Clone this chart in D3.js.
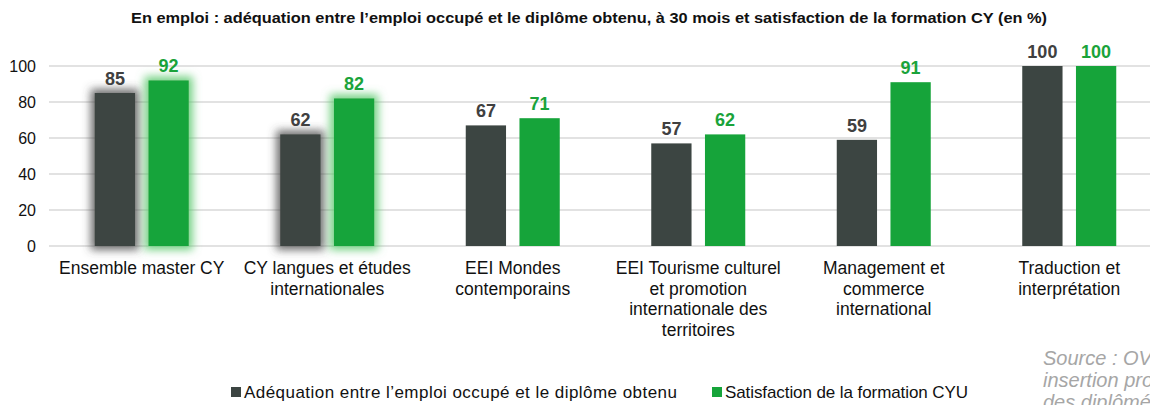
<!DOCTYPE html>
<html><head><meta charset="utf-8">
<script src="https://cdn.jsdelivr.net/npm/d3@7"></script>
<style>body{margin:0;background:#fff;overflow:hidden}svg{display:block;font-family:"Liberation Sans",Arial,sans-serif}</style>
</head><body><svg id="c" width="1150" height="405"></svg>
<script>
const categories = [
  ["Ensemble master CY"],
  ["CY langues et études", "internationales"],
  ["EEI Mondes", "contemporains"],
  ["EEI Tourisme culturel", "et promotion", "internationale des", "territoires"],
  ["Management et", "commerce", "international"],
  ["Traduction et", "interprétation"]
];
const seriesNames = ["Adéquation entre l’emploi occupé et le diplôme obtenu", "Satisfaction de la formation CYU"];
const adequation = [85, 62, 67, 57, 59, 100];
const satisfaction = [92, 82, 71, 62, 91, 100];
const yTicks = [0, 20, 40, 60, 80, 100];
const glowDark = [true, true, false, false, false, false];
const glowGreen = [true, true, false, false, false, false];

const colors = ["#3c4542", "#16a43a"];
const labelColors = ["#404040", "#1aa33a"];
const svg = d3.select("#c");

const defs = svg.append("defs");
function glow(id, col, op) {
  const f = defs.append("filter").attr("id",id).attr("x","-50%").attr("y","-50%").attr("width","200%").attr("height","200%");
  f.append("feMorphology").attr("in","SourceAlpha").attr("operator","dilate").attr("radius",3.5).attr("result","d");
  f.append("feGaussianBlur").attr("in","d").attr("stdDeviation",4).attr("result","b");
  f.append("feFlood").attr("flood-color",col).attr("flood-opacity",op);
  f.append("feComposite").attr("in2","b").attr("operator","in").attr("result","s");
  const m = f.append("feMerge"); m.append("feMergeNode").attr("in","s"); m.append("feMergeNode").attr("in","SourceGraphic");
}
glow("gd", "#4a4a4a", 0.8);
glow("gg", "#5cc96e", 0.85);

const x0 = d3.scaleBand().domain(d3.range(categories.length)).range([49, 1162]);
const x1 = d3.scaleBand().domain([0,1]).range([0, 94]).paddingInner(0.25);
const y = d3.scaleLinear().domain([0,100]).range([246, 66]);

svg.append("text").attr("x", 589).attr("y", 23).attr("text-anchor","middle")
  .attr("font-size", 14.5).attr("font-weight","bold").attr("fill","#111").attr("textLength", 916).attr("lengthAdjust","spacingAndGlyphs")
  .text("En emploi : adéquation entre l’emploi occupé et le diplôme obtenu, à 30 mois  et satisfaction de la formation CY (en %)");

// grid
const grid = svg.append("g");
grid.selectAll("line").data(yTicks).join("line")
  .attr("x1", 49).attr("x2", 1150).attr("y1", d=>y(d)).attr("y2", d=>y(d))
  .attr("stroke","#d9d9d9").attr("stroke-width",1.3);

const yAxis = svg.append("g").attr("transform","translate(36,0)")
  .call(d3.axisLeft(y).tickValues(yTicks).tickSize(0).tickPadding(0));
yAxis.select(".domain").remove();
yAxis.selectAll("text").attr("font-size",16).attr("fill","#111").attr("font-family","Liberation Sans, Arial, sans-serif");

const series = [adequation, satisfaction];
const glows = [glowDark, glowGreen];
const filt = ["url(#gd)","url(#gg)"];
categories.forEach((c, i) => {
  const g = svg.append("g").attr("transform", `translate(${x0(i) + (x0.bandwidth()-94)/2},0)`);
  series.forEach((s, k) => {
    const r = g.append("rect").attr("x", x1(k)).attr("width", x1.bandwidth())
      .attr("y", y(s[i])).attr("height", y(0) - y(s[i])).attr("fill", colors[k]);
    if (glows[k][i]) r.attr("filter", filt[k]);
    g.append("text").attr("x", x1(k) + x1.bandwidth()/2).attr("y", y(s[i]) - 8)
      .attr("text-anchor","middle").attr("font-size",18).attr("font-weight","bold")
      .attr("fill", labelColors[k]).text(s[i]);
  });
  const t = svg.append("text").attr("text-anchor","middle").attr("font-size",17.5).attr("fill","#111")
    .attr("transform", `translate(${x0(i) + x0.bandwidth()/2},274)`);
  c.forEach((line, j) => t.append("tspan").attr("x",0).attr("y", j*20.5).text(line));
});

// legend
const leg = svg.append("g");
const legX = [231, 712];
const legLen = [433, 243];
seriesNames.forEach((n, k) => {
  leg.append("rect").attr("x", legX[k]).attr("y", 387).attr("width", 10).attr("height", 10).attr("fill", colors[k]);
  leg.append("text").attr("x", legX[k] + 13).attr("y", 398).attr("font-size", 17).attr("fill","#111")
    .attr("textLength", legLen[k]).attr("lengthAdjust","spacing").text(n);
});

// source
const src = svg.append("text").attr("font-size",20).attr("font-style","italic").attr("fill","#a6a6a6")
  .attr("transform","translate(1043,0)");
["Source : OVE", "insertion professionnelle", "des diplômés"].forEach((l,j)=>src.append("tspan").attr("x",0).attr("y",365+j*22).text(l));
</script></body></html>
